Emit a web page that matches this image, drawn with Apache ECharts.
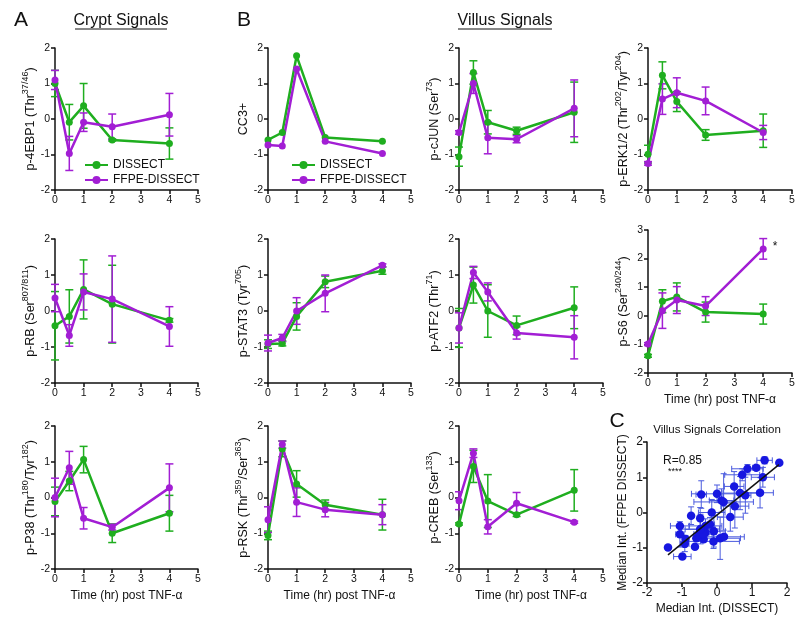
<!DOCTYPE html>
<html>
<head>
<meta charset="utf-8">
<script src="https://cdn.jsdelivr.net/npm/echarts@6.0.0/dist/echarts.min.js"></script>
<style>
html, body { margin: 0; padding: 0; background: #fff; }
#chart { width: 800px; height: 622px; }
</style>
</head>
<body>
<div id="chart"></div>
<script>
const FONT = '"Liberation Sans", Arial, sans-serif';
const GREEN = '#1fae1f';
const PURPLE = '#a21ed4';
const BLUE = '#1717e0';
const INK = '#111';

// time points (hr post TNF-a)
const times = [0, 0.5, 1, 2, 4];

// crypt signals
const ebp1Dissect = [1.0, -0.09, 0.37, -0.59, -0.69];
const ebp1DissectErr = [0.37, 0.5, 0.63, 0.03, 0.44];
const ebp1Ffpe = [1.1, -0.97, -0.09, -0.22, 0.12];
const ebp1FfpeErr = [0.27, 0.48, 0.26, 0.36, 0.6];

const rbDissect = [-0.41, -0.15, 0.6, 0.19, -0.26];
const rbDissectErr = [0.95, 0.74, 0.82, 1.08, 0.05];
const rbFfpe = [0.36, -0.68, 0.53, 0.33, -0.43];
const rbFfpeErr = [0.38, 0.3, 0.5, 1.2, 0.55];

const p38Dissect = [-0.11, 0.46, 1.06, -1.0, -0.44];
const p38DissectErr = [0.4, 0.27, 0.37, 0.26, 0.5];
const p38Ffpe = [0.0, 0.83, -0.58, -0.83, 0.27];
const p38FfpeErr = [0.54, 0.46, 0.3, 0.08, 0.67];

// villus signals
const cc3Dissect = [-0.59, -0.38, 1.78, -0.52, -0.63];
const cc3DissectErr = [0, 0, 0, 0, 0];
const cc3Ffpe = [-0.73, -0.76, 1.41, -0.63, -0.97];
const cc3FfpeErr = [0, 0, 0, 0, 0];

const cjunDissect = [-1.06, 1.31, -0.09, -0.33, 0.19];
const cjunDissectErr = [0.27, 0.33, 0.33, 0.1, 0.85];
const cjunFfpe = [-0.38, 1.0, -0.53, -0.57, 0.3];
const cjunFfpeErr = [0.05, 0.28, 0.45, 0.1, 0.8];

const erkDissect = [-0.99, 1.23, 0.49, -0.45, -0.33];
const erkDissectErr = [0.25, 0.38, 0.28, 0.15, 0.47];
const erkFfpe = [-1.25, 0.56, 0.74, 0.51, -0.38];
const erkFfpeErr = [0.05, 0.43, 0.42, 0.39, 0.2];

const stat3Dissect = [-0.92, -0.9, -0.15, 0.81, 1.12];
const stat3DissectErr = [0.12, 0.07, 0.38, 0.16, 0.1];
const stat3Ffpe = [-0.89, -0.75, 0.0, 0.49, 1.27];
const stat3FfpeErr = [0.22, 0.1, 0.37, 0.51, 0.04];

const atf2Dissect = [-0.47, 0.72, 0.0, -0.4, 0.09];
const atf2DissectErr = [0.54, 0.5, 0.73, 0.26, 0.58];
const atf2Ffpe = [-0.47, 1.07, 0.53, -0.61, -0.73];
const atf2FfpeErr = [0.42, 0.17, 0.25, 0.17, 0.6];

const s6Dissect = [-1.4, 0.51, 0.66, 0.13, 0.06];
const s6DissectErr = [0.05, 0.4, 0.49, 0.35, 0.35];
const s6Ffpe = [-0.99, 0.18, 0.55, 0.34, 2.34];
const s6FfpeErr = [0.05, 0.62, 0.47, 0.33, 0.36];

const rskDissect = [-1.06, 1.36, 0.38, -0.2, -0.48];
const rskDissectErr = [0.12, 0.22, 0.37, 0.13, 0.43];
const rskFfpe = [-0.62, 1.48, -0.13, -0.34, -0.48];
const rskFfpeErr = [0.36, 0.1, 0.4, 0.2, 0.28];

const crebDissect = [-0.74, 0.87, -0.1, -0.48, 0.2];
const crebDissectErr = [0.03, 0.45, 0.74, 0.05, 0.58];
const crebFfpe = [-0.09, 1.24, -0.82, -0.16, -0.69];
const crebFfpeErr = [0.25, 0.12, 0.2, 0.3, 0.03];

// regression line in panel C (end points)
const fitLine = [[-1.40, -1.20], [1.77, 1.36]];

const panels = [
  { label: '{m|p-4EBP1 (Thr}{s|37/46}{m|)}', d: ebp1Dissect, de: ebp1DissectErr, f: ebp1Ffpe, fe: ebp1FfpeErr, box: [55, 48, 143, 142] },
  { label: '{m|CC3+}', d: cc3Dissect, de: cc3DissectErr, f: cc3Ffpe, fe: cc3FfpeErr, box: [268, 48, 143, 142], villus: true },
  { label: '{m|p-cJUN (Ser}{s|73}{m|)}', d: cjunDissect, de: cjunDissectErr, f: cjunFfpe, fe: cjunFfpeErr, box: [459, 48, 144, 142], villus: true },
  { label: '{m|p-ERK1/2 (Thr}{s|202}{m|/Tyr}{s|204}{m|)}', d: erkDissect, de: erkDissectErr, f: erkFfpe, fe: erkFfpeErr, box: [648, 48, 144, 142], villus: true },
  { label: '{m|p-RB (Ser}{s|807/811}{m|)}', d: rbDissect, de: rbDissectErr, f: rbFfpe, fe: rbFfpeErr, box: [55, 239, 143, 144] },
  { label: '{m|p-STAT3 (Tyr}{s|705}{m|)}', d: stat3Dissect, de: stat3DissectErr, f: stat3Ffpe, fe: stat3FfpeErr, box: [268, 239, 143, 144], villus: true },
  { label: '{m|p-ATF2 (Thr}{s|71}{m|)}', d: atf2Dissect, de: atf2DissectErr, f: atf2Ffpe, fe: atf2FfpeErr, box: [459, 239, 144, 144], villus: true },
  { label: '{m|p-S6 (Ser}{s|240/244}{m|)}', d: s6Dissect, de: s6DissectErr, f: s6Ffpe, fe: s6FfpeErr, box: [648, 230, 144, 143], villus: true, ymax: 3, timeName: true, star: 4 },
  { label: '{m|p-P38 (Thr}{s|180}{m|/Tyr}{s|182}{m|)}', d: p38Dissect, de: p38DissectErr, f: p38Ffpe, fe: p38FfpeErr, box: [55, 426, 143, 143], timeName: true },
  { label: '{m|p-RSK (Thr}{s|359}{m|/Ser}{s|363}{m|)}', d: rskDissect, de: rskDissectErr, f: rskFfpe, fe: rskFfpeErr, box: [268, 426, 143, 143], villus: true, timeName: true },
  { label: '{m|p-CREB (Ser}{s|133}{m|)}', d: crebDissect, de: crebDissectErr, f: crebFfpe, fe: crebFfpeErr, box: [459, 426, 144, 143], villus: true, timeName: true }
];
const corrBox = [647, 442, 140, 141];

const axisLineStyle = { color: INK, width: 1.5 };
const nameRich = {
  m: { fontSize: 12.5, lineHeight: 18, fontFamily: FONT, color: INK },
  s: { fontSize: 9, lineHeight: 10, verticalAlign: 'top', fontFamily: FONT, color: INK }
};

function errBar(color, cap, width) {
  return function (params, api) {
    const x = api.value(0), y = api.value(1), e = api.value(2);
    if (!(e > 0)) return { type: 'group', children: [] };
    const hi = api.coord([x, y + e]), lo = api.coord([x, y - e]);
    const st = { stroke: color, lineWidth: width, fill: null };
    return {
      type: 'group',
      children: [
        { type: 'line', shape: { x1: hi[0], y1: hi[1], x2: lo[0], y2: lo[1] }, style: st },
        { type: 'line', shape: { x1: hi[0] - cap, y1: hi[1], x2: hi[0] + cap, y2: hi[1] }, style: st },
        { type: 'line', shape: { x1: lo[0] - cap, y1: lo[1], x2: lo[0] + cap, y2: lo[1] }, style: st }
      ]
    };
  };
}

function xyErrBar(color, cap) {
  return function (params, api) {
    const x = api.value(0), y = api.value(1), ex = api.value(2), ey = api.value(3);
    const st = { stroke: color, lineWidth: 1, fill: null };
    const kids = [];
    if (ey > 0) {
      const hi = api.coord([x, y + ey]), lo = api.coord([x, y - ey]);
      kids.push({ type: 'line', shape: { x1: hi[0], y1: hi[1], x2: lo[0], y2: lo[1] }, style: st });
      kids.push({ type: 'line', shape: { x1: hi[0] - cap, y1: hi[1], x2: hi[0] + cap, y2: hi[1] }, style: st });
      kids.push({ type: 'line', shape: { x1: lo[0] - cap, y1: lo[1], x2: lo[0] + cap, y2: lo[1] }, style: st });
    }
    if (ex > 0) {
      const l = api.coord([x - ex, y]), r = api.coord([x + ex, y]);
      kids.push({ type: 'line', shape: { x1: l[0], y1: l[1], x2: r[0], y2: r[1] }, style: st });
      kids.push({ type: 'line', shape: { x1: l[0], y1: l[1] - cap, x2: l[0], y2: l[1] + cap }, style: st });
      kids.push({ type: 'line', shape: { x1: r[0], y1: r[1] - cap, x2: r[0], y2: r[1] + cap }, style: st });
    }
    return { type: 'group', children: kids };
  };
}

const grid = [], xAxis = [], yAxis = [], series = [];

panels.forEach((p, i) => {
  grid.push({ left: p.box[0], top: p.box[1], width: p.box[2], height: p.box[3] });
  xAxis.push({
    gridIndex: i, type: 'value', min: 0, max: 5, interval: 1,
    axisLine: { onZero: false, lineStyle: axisLineStyle },
    axisTick: { length: 4, lineStyle: axisLineStyle },
    axisLabel: { fontSize: 10.5, color: INK, margin: 5, fontFamily: FONT },
    splitLine: { show: false },
    name: p.timeName ? 'Time (hr) post TNF-α' : '',
    nameLocation: 'middle', nameGap: 21,
    nameTextStyle: { fontSize: 12, color: INK, fontFamily: FONT }
  });
  yAxis.push({
    gridIndex: i, type: 'value', min: -2, max: p.ymax || 2, interval: 1,
    axisLine: { onZero: false, lineStyle: axisLineStyle },
    axisTick: { length: 4, lineStyle: axisLineStyle },
    axisLabel: { fontSize: 10.5, color: INK, margin: 5, fontFamily: FONT },
    splitLine: { show: false },
    name: p.label, nameLocation: 'middle', nameRotate: 90, nameGap: 12,
    nameTextStyle: { fontFamily: FONT, color: INK, rich: nameRich }
  });
  [[p.d, p.de, GREEN, 'DISSECT'], [p.f, p.fe, PURPLE, 'FFPE-DISSECT']].forEach(([vals, errs, color, name]) => {
    series.push({
      type: 'custom', name: name + ' err', xAxisIndex: i, yAxisIndex: i,
      renderItem: errBar(color, 4, 1.5),
      encode: { x: 0, y: 1 },
      data: times.map((t, k) => [t, vals[k], errs[k]]),
      silent: true
    });
    series.push({
      type: 'line', name: name, xAxisIndex: i, yAxisIndex: i,
      symbol: 'circle', symbolSize: 7,
      itemStyle: { color: color },
      lineStyle: { color: color, width: 2.5 },
      data: times.map((t, k) => {
        if (name === 'FFPE-DISSECT' && p.star === k) {
          return { value: [t, vals[k]], label: { show: true, formatter: '*', position: 'right', distance: 6, offset: [0, -2], fontSize: 12, color: INK, fontFamily: FONT } };
        }
        return [t, vals[k]];
      })
    });
  });
});

// panel C: villus signals correlation, FFPE vs DISSECT
const ci = panels.length;
grid.push({ left: corrBox[0], top: corrBox[1], width: corrBox[2], height: corrBox[3] });
xAxis.push({
  gridIndex: ci, type: 'value', min: -2, max: 2, interval: 1,
  axisLine: { onZero: false, lineStyle: axisLineStyle },
  axisTick: { length: 4, lineStyle: axisLineStyle },
  axisLabel: { fontSize: 12, color: INK, margin: 4, fontFamily: FONT },
  splitLine: { show: false },
  name: 'Median Int. (DISSECT)', nameLocation: 'middle', nameGap: 20,
  nameTextStyle: { fontSize: 12, color: INK, fontFamily: FONT }
});
yAxis.push({
  gridIndex: ci, type: 'value', min: -2, max: 2, interval: 1,
  axisLine: { onZero: false, lineStyle: axisLineStyle },
  axisTick: { length: 4, lineStyle: axisLineStyle },
  axisLabel: { fontSize: 12, color: INK, margin: 4, fontFamily: FONT },
  splitLine: { show: false },
  name: 'Median Int. (FFPE DISSECT)', nameLocation: 'middle', nameRotate: 90, nameGap: 18,
  nameTextStyle: { fontSize: 12, color: INK, fontFamily: FONT }
});
const corrData = [];
panels.filter(p => p.villus).forEach(p => {
  times.forEach((t, k) => {
    if (Math.abs(p.d[k]) <= 2 && Math.abs(p.f[k]) <= 2) {
      corrData.push([p.d[k], p.f[k], p.de[k], p.fe[k]]);
    }
  });
});
series.push({
  type: 'custom', name: 'corr err', xAxisIndex: ci, yAxisIndex: ci,
  renderItem: xyErrBar('#4a5ade', 3), encode: { x: 0, y: 1 },
  data: corrData, silent: true
});
series.push({
  type: 'scatter', name: 'corr', xAxisIndex: ci, yAxisIndex: ci,
  symbolSize: 8.5, itemStyle: { color: BLUE, opacity: 1 },
  data: corrData.map(r => [r[0], r[1]])
});
series.push({
  type: 'line', name: 'fit', xAxisIndex: ci, yAxisIndex: ci,
  symbol: 'none', lineStyle: { color: INK, width: 1.5 }, data: fitLine, z: 5
});

function txt(x, y, text, size, align) {
  return {
    type: 'text', x: x, y: y, z: 10,
    style: { text: text, fontSize: size, fontFamily: FONT, fill: INK,
      align: align || 'center', textAlign: align || 'center', verticalAlign: 'middle', textVerticalAlign: 'middle' }
  };
}

const legendBase = {
  orient: 'vertical', data: ['DISSECT', 'FFPE-DISSECT'], itemGap: 3, padding: 0,
  itemWidth: 23, itemHeight: 10, textStyle: { fontSize: 12, color: INK, fontFamily: FONT },
  selectedMode: false
};

const chart = echarts.init(document.getElementById('chart'), null, { renderer: 'canvas' });
chart.setOption({
  animation: false,
  backgroundColor: '#fff',
  grid: grid,
  xAxis: xAxis,
  yAxis: yAxis,
  legend: [
    Object.assign({ left: 84, top: 159 }, legendBase),
    Object.assign({ left: 291, top: 159 }, legendBase)
  ],
  graphic: [
    txt(21, 20, 'A', 21),
    txt(244, 20, 'B', 21),
    txt(617, 421, 'C', 21),
    txt(121, 21, 'Crypt Signals', 16),
    { type: 'line', shape: { x1: 75, y1: 29, x2: 167, y2: 29 }, style: { stroke: INK, lineWidth: 1 } },
    txt(505, 21, 'Villus Signals', 16),
    { type: 'line', shape: { x1: 458, y1: 29, x2: 552, y2: 29 }, style: { stroke: INK, lineWidth: 1 } },
    txt(717, 430, 'Villus Signals Correlation', 11.5),
    txt(663, 461, 'R=0.85', 12, 'left'),
    txt(668, 472, '****', 9, 'left')
  ],
  series: series
});
</script>
</body>
</html>
